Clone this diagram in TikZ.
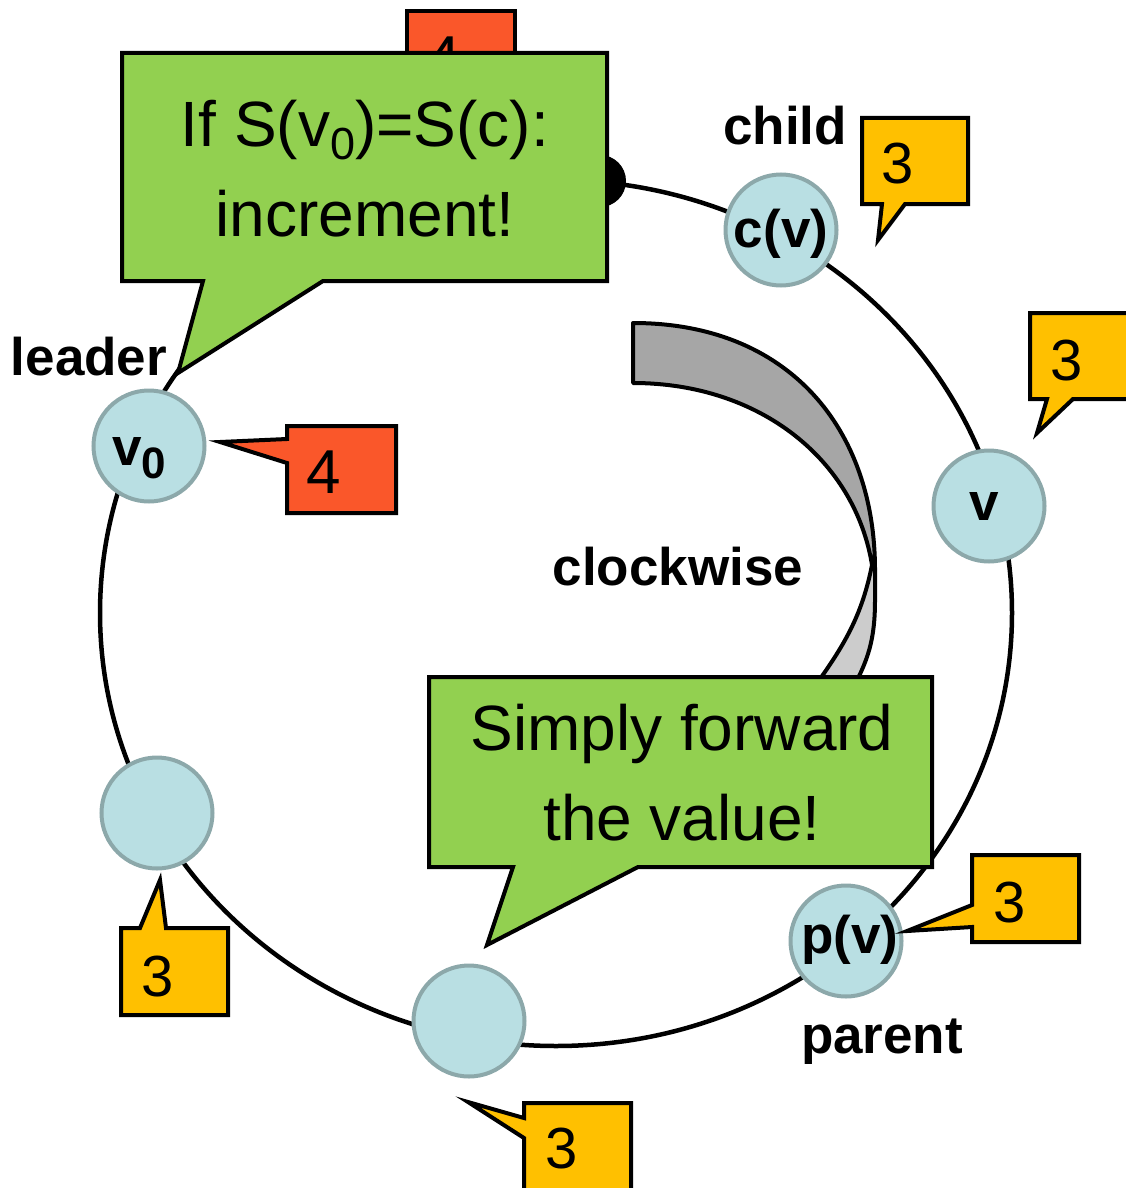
\documentclass[tikz,border=0pt]{standalone}
\usepackage{fontspec}
\setmainfont{Liberation Sans}
\definecolor{nodefill}{RGB}{185,223,227}
\definecolor{nodeline}{RGB}{140,168,170}
\definecolor{callgreen}{RGB}{146,208,80}
\definecolor{callyellow}{RGB}{255,192,0}
\definecolor{callred}{RGB}{250,87,42}
\definecolor{arrowdark}{RGB}{166,166,166}
\definecolor{arrowlight}{RGB}{204,204,204}
\begin{document}
\begin{tikzpicture}[x=1pt,y=-1pt,
  ringnode/.style={circle,fill=nodefill,draw=nodeline,line width=4pt,minimum size=111pt,inner sep=0pt},
  lbl/.style={font=\fontsize{53}{60}\selectfont\bfseries,anchor=base,inner sep=0pt},
  digit/.style={font=\fontsize{58}{60}\selectfont,anchor=base,inner sep=0pt},
  bigdigit/.style={font=\fontsize{62}{64}\selectfont,anchor=base,inner sep=0pt},
  bubble/.style={draw=black,line width=4pt,line join=miter},
  saytext/.style={font=\fontsize{64}{90}\selectfont,align=center,inner sep=0pt},
  bandline/.style={draw=black,line width=4pt,line join=round}
]
\useasboundingbox (0,0) rectangle (1125,1188);

% ring
\draw[line width=4.5pt] (556,613) ellipse [x radius=456pt, y radius=433pt];
\node[circle,fill=black,minimum size=52pt,inner sep=0pt] (dot) at (600,181) {};

% gray curved arrow
\path[bandline,fill=arrowlight] (872,565) .. controls (862,615) and (845,645) .. (812,690)
  -- (852,690) .. controls (868,660) and (875,640) .. (875,600) -- (875,570) -- cycle;
\path[bandline,fill=arrowdark] (633,323) .. controls (790,323) and (875,430) .. (875,570)
  -- (872,565) .. controls (855,460) and (760,383) .. (633,383) -- cycle;

% ring nodes
\node[ringnode] (cv) at (781,230) {};
\node[ringnode] (v) at (989,506) {};
\node[ringnode] (v0) at (149,446) {};
\node[ringnode] (w1) at (157,813) {};
\node[ringnode] (w2) at (469,1021) {};
\node[ringnode] (pv) at (846,941) {};

\node[lbl] (cvl) at (781,247) {c(v)};
\node[lbl] (vl) at (984,520) {v};
\node[lbl] (v0l) at (139,465) {v\raisebox{-13pt}{\fontsize{44}{44}\selectfont\bfseries 0}};
\node[lbl] (pvl) at (850,953) {p(v)};

% labels
\node[lbl] (child) at (785,145) {child};
\node[lbl] (leader) at (89,375) {leader};
\node[lbl] (parent) at (882,1053) {parent};
\node[lbl] (clockwise) at (678,585) {clockwise};

% yellow callouts
\path[bubble,fill=callyellow] (862,118) -- (968,118) -- (968,204) -- (905,204) -- (878,240) -- (882,204) -- (862,204) -- cycle;
\node[digit] (y1) at (898,183) {3};
\path[bubble,fill=callyellow] (1030,313) -- (1140,313) -- (1140,399) -- (1073,399) -- (1037,433) -- (1047,399) -- (1030,399) -- cycle;
\node[digit] (y2) at (1067,380) {3};
\path[bubble,fill=callyellow] (972,855) -- (1079,855) -- (1079,942) -- (972,942) -- (972,927) -- (907,931) -- (972,905) -- cycle;
\node[digit] (y3) at (1010,922) {3};
\path[bubble,fill=callyellow] (121,928) -- (140,928) -- (160,880) -- (166,928) -- (228,928) -- (228,1015) -- (121,1015) -- cycle;
\node[digit] (y4) at (158,996) {3};
\path[bubble,fill=callyellow] (524,1103) -- (631,1103) -- (631,1198) -- (524,1198) -- (524,1138) -- (468,1102) -- (524,1118) -- cycle;
\node[digit] (y5) at (562,1168) {3};

% red callouts
\path[bubble,fill=callred] (287,426) -- (396,426) -- (396,513) -- (287,513) -- (287,463) -- (220,442) -- (287,439) -- cycle;
\node[bigdigit] (r1) at (324,493) {4};
\path[bubble,fill=callred] (407,11) -- (515,11) -- (515,97) -- (407,97) -- cycle;
\node[bigdigit] (r2) at (444,80) {4};

% green callouts
\path[bubble,fill=callgreen] (122,53) -- (607,53) -- (607,281) -- (323,281) -- (178,373) -- (203,281) -- (122,281) -- cycle;
\node[saytext] (say1) at (365,169) {If S(v\raisebox{-13pt}{\fontsize{45}{45}\selectfont 0})=S(c):\\increment!};
\path[bubble,fill=callgreen] (429,677) -- (932,677) -- (932,867) -- (638,867) -- (487,945) -- (513,867) -- (429,867) -- cycle;
\node[saytext] (say2) at (682,773) {Simply forward\\the value!};
\end{tikzpicture}
\end{document}
